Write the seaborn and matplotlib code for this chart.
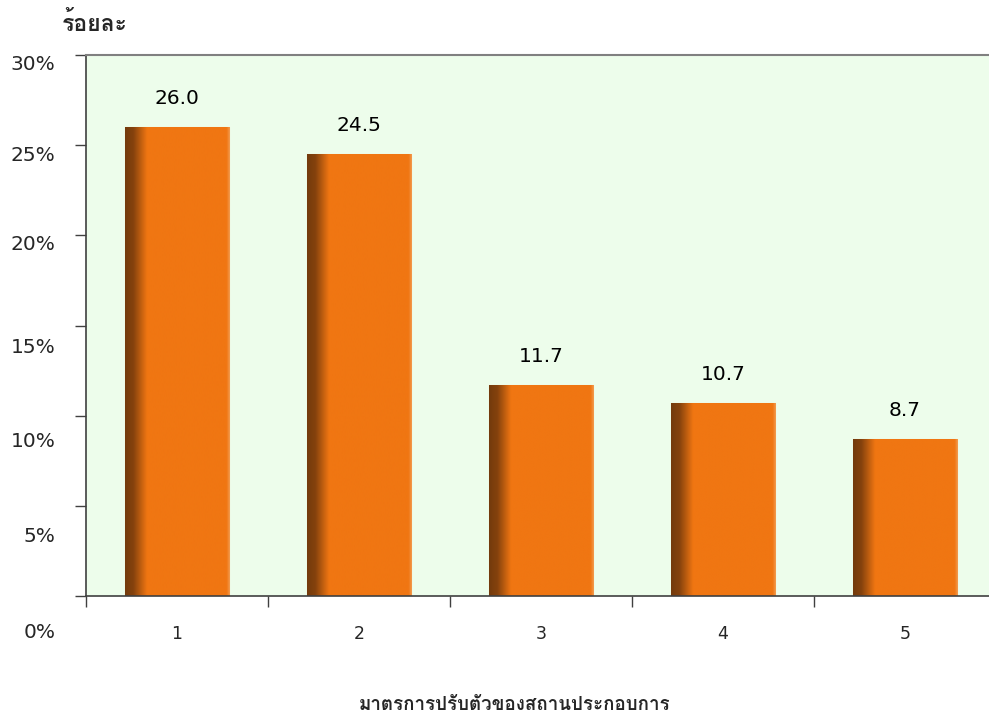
import matplotlib
matplotlib.use("Agg")
import matplotlib.pyplot as plt
import matplotlib.transforms as mtransforms
from matplotlib.colors import LinearSegmentedColormap
import numpy as np
import pandas as pd
import seaborn as sns

# data
categories = ["1", "2", "3", "4", "5"]
values = [26.0, 24.5, 11.7, 10.7, 8.7]
value_labels = ["26.0", "24.5", "11.7", "10.7", "8.7"]
yticks = [0, 5, 10, 15, 20, 25, 30]
ytick_labels = ["0%", "5%", "10%", "15%", "20%", "25%", "30%"]
# the original labels drift downward from their ticks (pixels)
ytick_drop = [34, 29, 24, 20, 7, 8, 7]

ylabel = "ร้อยละ"
xlabel = "มาตรการปรับตัวของสถานประกอบการ"

df = pd.DataFrame({"cat": categories, "val": values})

sns.set_style("white")
plt.rcParams["font.family"] = ["DejaVu Sans", "Loma"]

fig = plt.figure(figsize=(9.89, 7.2), dpi=100)
# plot area runs slightly past the right edge of the picture, as in the original
ax = fig.add_axes([86 / 989, 1 - 596 / 720, 910 / 989, (596 - 55) / 720])
ax.set_facecolor("#edfdeb")

orange = "#f07612"
sns.barplot(data=df, x="cat", y="val", color=orange, width=0.572,
            saturation=1, ax=ax, edgecolor="#f6cfa6", linewidth=0.8)

# left-edge shading on each bar
shade = LinearSegmentedColormap.from_list(
    "shade", [(0.0, "#733a0c"), (0.08, "#85420d"), (0.21, orange),
              (0.97, orange), (1.0, "#f39a4e")])
grad = np.linspace(0, 1, 256).reshape(1, -1)
for p in ax.patches:
    x0, y0 = p.get_x(), p.get_y()
    w, h = p.get_width(), p.get_height()
    im = ax.imshow(grad, cmap=shade, extent=(x0, x0 + w, y0, y0 + h),
                   aspect="auto", zorder=p.get_zorder() + 0.1, interpolation="bilinear")
    im.set_clip_path(p)

for p, lab in zip(ax.patches, value_labels):
    ax.annotate(lab, (p.get_x() + p.get_width() / 2, p.get_height()),
                xytext=(0, 14), textcoords="offset points",
                ha="center", va="bottom", fontsize=14.5, color="black")

ax.set_xlim(-0.5, 4.5)
ax.set_ylim(0, 30)
ax.set_xlabel("")
ax.set_ylabel("")

# y axis
ax.set_yticks(yticks)
ax.set_yticklabels(ytick_labels, fontsize=14.5)
ax.tick_params(axis="y", which="major", direction="out", length=8, width=1,
               color="#404040", pad=14, left=True)
for lab, d in zip(ax.get_yticklabels(), ytick_drop):
    lab.set_transform(lab.get_transform() +
                      mtransforms.ScaledTranslation(0, -d / 100, fig.dpi_scale_trans))

# x axis: labels at centres, ticks between categories
ax.set_xticks(range(len(categories)))
ax.set_xticklabels(categories, fontsize=12.5)
ax.tick_params(axis="x", which="major", length=0, pad=21)
ax.set_xticks(np.arange(-0.5, 5, 1), minor=True)
ax.tick_params(axis="x", which="minor", direction="out", length=8, width=1,
               color="#404040", bottom=True)

for s in ["left", "bottom"]:
    ax.spines[s].set_color("#404040")
    ax.spines[s].set_linewidth(1.2)
ax.spines["top"].set_color("#808080")
ax.spines["top"].set_linewidth(1.5)
ax.spines["right"].set_visible(False)

fig.text(95 / 989, 1 - 23 / 720, ylabel, ha="center", va="center",
         fontsize=16.5, fontweight="bold", family=["Loma", "DejaVu Sans"])
fig.text(515 / 989, 1 - 705 / 720, xlabel, ha="center", va="center",
         fontsize=13.5, fontweight="bold", family=["Loma", "DejaVu Sans"])

fig.savefig("out.png", dpi=100)
